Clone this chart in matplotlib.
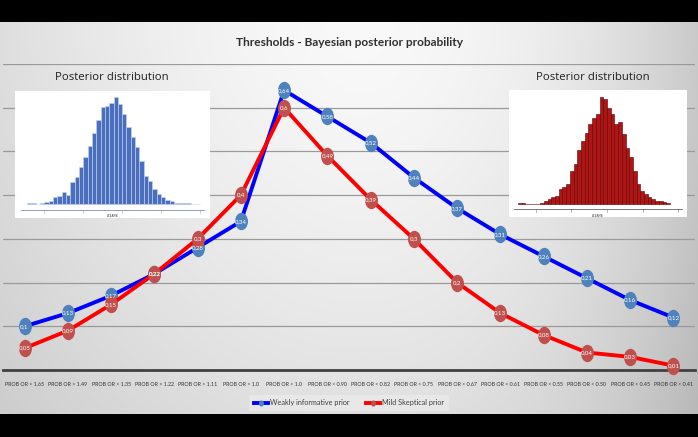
import numpy as np
import matplotlib
matplotlib.use("Agg")
import matplotlib.pyplot as plt
from matplotlib.path import Path

# ---------------- data ----------------
categories = ["PROB OR > 1.65", "PROB OR > 1.49", "PROB OR > 1.35", "PROB OR > 1.22",
              "PROB OR > 1.11", "PROB OR > 1.0", "PROB OR < 1.0", "PROB OR < 0.90",
              "PROB OR < 0.82", "PROB OR < 0.75", "PROB OR < 0.67", "PROB OR < 0.61",
              "PROB OR < 0.55", "PROB OR < 0.50", "PROB OR < 0.45", "PROB OR < 0.41"]
weakly = [0.10, 0.13, 0.17, 0.22, 0.28, 0.34, 0.64, 0.58, 0.52, 0.44, 0.37, 0.31, 0.26, 0.21, 0.16, 0.12]
skeptical = [0.05, 0.09, 0.15, 0.22, 0.30, 0.40, 0.60, 0.49, 0.39, 0.30, 0.20, 0.13, 0.08, 0.04, 0.03, 0.01]
series_names = ["Weakly informative prior", "Mild Skeptical prior"]

hist_blue = [2, 2, 1, 3, 5, 10, 22, 24, 36, 28, 66, 80, 112, 142, 174, 212, 252, 290, 292, 302,
             320, 300, 270, 230, 200, 170, 130, 84, 70, 46, 30, 22, 12, 8, 4, 2, 2, 2, 1, 1]
hist_red = [2, 2, 0, 0, 0, 1, 3, 8, 14, 20, 24, 46, 50, 60, 100, 120, 162, 190, 214, 240, 260,
            270, 322, 316, 290, 270, 240, 246, 210, 170, 140, 100, 60, 40, 30, 20, 16, 10, 8, 6, 2]

title = "Thresholds - Bayesian posterior probability"
inset_title = "Posterior distribution"

W, H = 698, 437
fig = plt.figure(figsize=(W / 100, H / 100), dpi=100)

FONT = ["Lato", "DejaVu Sans"]

# ---------------- background ----------------
bg = fig.add_axes([0, 0, 1, 1], zorder=0)
yy, xx = np.mgrid[0:H, 0:W].astype(float)
u = (xx - 360) / 349.0
v = np.clip((yy - 30) / 390.0, 0, 1)
shade = 0.975 - 0.10 * np.abs(u) ** 1.6 - 0.10 * np.clip(u, 0, None) ** 3
shade -= 0.10 * v ** 1.5 * (1 - 0.3 * np.abs(u))
shade = np.clip(shade, 0, 1)
img = np.dstack([shade, shade, shade])
img[:22] = 0
img[414:] = 0
bg.imshow(img, extent=[0, W, H, 0], aspect="auto", interpolation="bilinear")
bg.set_xlim(0, W)
bg.set_ylim(H, 0)
bg.axis("off")

def fx(px):
    return px / W

def fy(py):
    return (H - py) / H

# ---------------- main axes ----------------
ax = fig.add_axes([fx(3), fy(370), fx(695) - fx(3), fy(64) - fy(370)], zorder=2)
ax.patch.set_alpha(0)
x = np.arange(len(categories))
ax.set_xlim(-0.5, len(categories) - 0.5)
ax.set_ylim(0, 0.7)
ax.set_yticks(np.arange(0.1, 0.71, 0.1))
ax.yaxis.grid(True, color="#9a9a9a", linewidth=0.9)
ax.set_axisbelow(True)
for s in ["top", "right", "left"]:
    ax.spines[s].set_visible(False)
ax.spines["bottom"].set_color("#404040")
ax.spines["bottom"].set_linewidth(2)
ax.tick_params(axis="y", left=False, labelleft=False)
ax.tick_params(axis="x", length=0, pad=9)
ax.set_xticks(x)
ax.set_xticklabels(categories, fontsize=3.8, color="#333333", family=FONT)

circ = Path.unit_circle()
ellipse = Path(circ.vertices * np.array([0.72, 1.0]), circ.codes)

for vals, lc, mc, name in [(weakly, "#0000ff", "#4f81bd", series_names[0]),
                           (skeptical, "#ff0000", "#c0504d", series_names[1])]:
    ax.plot(x, vals, color=lc, linewidth=2.8, marker=ellipse, markersize=11.5,
            markerfacecolor=mc, markeredgecolor=mc, label=name, zorder=3, clip_on=False)
    for xi, val in zip(x, vals):
        ax.text(xi, val, f"{val:g}".replace(".", ","), ha="center", va="center",
                fontsize=4.4, color="white", zorder=4, family=FONT)

leg = ax.legend(loc="center", bbox_to_anchor=(0.5, (fy(403) - fy(370)) / (fy(64) - fy(370))),
                ncol=2, frameon=True, prop={"family": FONT, "size": 5.2},
                handlelength=2.0, handletextpad=0.3, columnspacing=2.2,
                markerscale=0.3, borderpad=0.6)
leg.get_frame().set_facecolor("#eeeeee")
leg.get_frame().set_edgecolor("none")
leg.get_frame().set_alpha(0.6)
for t in leg.get_texts():
    t.set_color("#404040")

fig.text(fx(349), fy(42), title, ha="center", va="center", fontsize=8.6,
         fontweight="bold", color="#303030", family=FONT)

# ---------------- insets ----------------
def inset(box, counts, face, edge, bar_px, base_py, peak_py, label_x, axis_col):
    x0, y0, x1, y1 = box
    iax = fig.add_axes([fx(x0), fy(y1), fx(x1) - fx(x0), fy(y0) - fy(y1)], zorder=3)
    iax.set_facecolor("white")
    n = len(counts)
    hmax = max(counts)
    left = -(bar_px[0] - x0) / (bar_px[1] - bar_px[0]) * n
    right = n + (x1 - bar_px[1]) / (bar_px[1] - bar_px[0]) * n
    bh = y1 - y0
    fb = (y1 - base_py) / bh
    fp = (y1 - peak_py) / bh
    bottom = -fb / (fp - fb) * hmax
    top = bottom + hmax / (fp - fb)
    iax.bar(np.arange(n), counts, width=1.0, align="edge", color=face,
            edgecolor=edge, linewidth=0.4)
    iax.set_xlim(left, right)
    iax.set_ylim(bottom, top)
    for s in iax.spines.values():
        s.set_visible(False)
    iax.set_xticks([])
    iax.set_yticks([])
    yl = fb * 0.6
    iax.plot([0.03, 0.97], [yl, yl], transform=iax.transAxes, color=axis_col, lw=0.7)
    for t in np.linspace(0.15, 0.95, 5):
        iax.plot([t, t], [yl, yl - 0.025], transform=iax.transAxes, color=axis_col, lw=0.4)
    iax.text(0.5, yl - 0.05, "ACEAMB", transform=iax.transAxes, ha="center", va="center",
             fontsize=2, color="#444444")
    fig.text(fx(label_x), fy(78), inset_title, ha="center", va="center", fontsize=8.2,
             color="#202020", family=["Open Sans", "DejaVu Sans"])

inset((15, 91, 210, 218), hist_blue, "#4a6fbe", "#c8d4ee", (27, 200), 204, 97, 112, "#8aa0c8")
inset((509, 90, 687, 217), hist_red, "#b01515", "#5a0000", (518, 670), 204, 97, 593, "#777777")

fig.savefig("out.png", dpi=100)
